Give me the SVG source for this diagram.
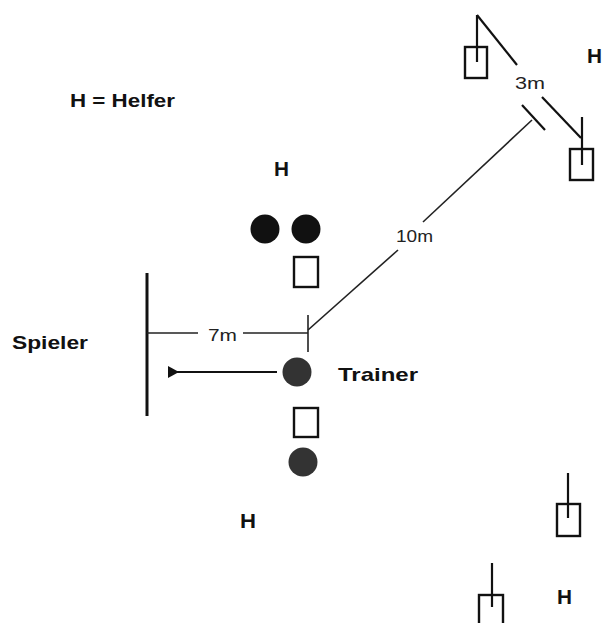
<svg xmlns="http://www.w3.org/2000/svg" width="603" height="623" viewBox="0 0 603 623">
<style>
.b{font-family:"Liberation Sans",Arial,sans-serif;font-weight:bold;font-size:19px;fill:#111}
.h{font-size:20px}
.r{font-family:"Liberation Sans",Arial,sans-serif;font-size:16px;fill:#222}
.ln{stroke:#111;stroke-width:2.2;fill:none}
.thin{stroke:#222;stroke-width:1.6;fill:none}
.box{stroke:#111;stroke-width:2.4;fill:#fff}
</style>
<defs>
<marker id="ah" markerWidth="12" markerHeight="12" refX="3" refY="6" orient="auto" markerUnits="userSpaceOnUse">
<path d="M11,0 L0,6 L11,12 Z" fill="#111"/>
</marker>
</defs>
<rect width="603" height="623" fill="#fff"/>
<g id="legend"><text class="b" x="70" y="107" textLength="105" lengthAdjust="spacingAndGlyphs">H = Helfer</text></g>
<g id="labels">
<text class="b" x="12" y="349" textLength="76" lengthAdjust="spacingAndGlyphs">Spieler</text>
<text class="b" x="338" y="381" textLength="80" lengthAdjust="spacingAndGlyphs">Trainer</text>
<text class="b h" x="274" y="176" textLength="15" lengthAdjust="spacingAndGlyphs">H</text>
<text class="b h" x="240" y="528" textLength="16" lengthAdjust="spacingAndGlyphs">H</text>
<text class="b h" x="557" y="604" textLength="15" lengthAdjust="spacingAndGlyphs">H</text>
<text class="b h" x="587" y="63" textLength="15" lengthAdjust="spacingAndGlyphs">H</text>
</g>
<g id="connectors">
<line x1="147" y1="273" x2="147" y2="416" stroke="#111" stroke-width="3"/>
<line class="thin" x1="147" y1="333" x2="198" y2="333"/>
<line class="thin" x1="243" y1="333" x2="308" y2="333"/>
<line class="thin" x1="308" y1="315" x2="308" y2="352"/>
<line class="thin" x1="308" y1="330" x2="398" y2="250"/>
<line class="thin" x1="423" y1="222" x2="532" y2="120"/>
<line class="ln" x1="522" y1="105" x2="545" y2="130"/>
<line class="ln" x1="477" y1="15" x2="517" y2="65"/>
<line class="ln" x1="542" y1="97" x2="581" y2="138"/>
<line class="ln" x1="277" y1="372" x2="176" y2="372" stroke-width="2.6" marker-end="url(#ah)"/>
</g>
<g id="dim-labels">
<text class="r" x="208" y="341" textLength="29" lengthAdjust="spacingAndGlyphs">7m</text>
<text class="r" x="396" y="242" textLength="37" lengthAdjust="spacingAndGlyphs">10m</text>
<text class="r" x="515" y="89" textLength="30" lengthAdjust="spacingAndGlyphs">3m</text>
</g>
<g id="helpers">
<circle cx="265" cy="229" r="14.5" fill="#111"/>
<circle cx="306" cy="229" r="14.5" fill="#111"/>
<rect class="box" x="294" y="257" width="24" height="30"/>
<circle cx="297" cy="372" r="14.5" fill="#333"/>
<rect class="box" x="294" y="408" width="24" height="29"/>
<circle cx="303" cy="462" r="14.5" fill="#333"/>
</g>
<g id="cone1"><rect class="box" x="465" y="47" width="22" height="31"/><line class="ln" x1="477" y1="15" x2="477" y2="62"/></g>
<g id="cone2"><rect class="box" x="570" y="149" width="23" height="31"/><line class="ln" x1="582" y1="117" x2="582" y2="165"/></g>
<g id="cone3"><rect class="box" x="557" y="504" width="23" height="32"/><line class="ln" x1="568" y1="473" x2="568" y2="518"/></g>
<g id="cone4"><rect class="box" x="479" y="595" width="24" height="32"/><line class="ln" x1="492" y1="563" x2="492" y2="607"/></g>
</svg>
